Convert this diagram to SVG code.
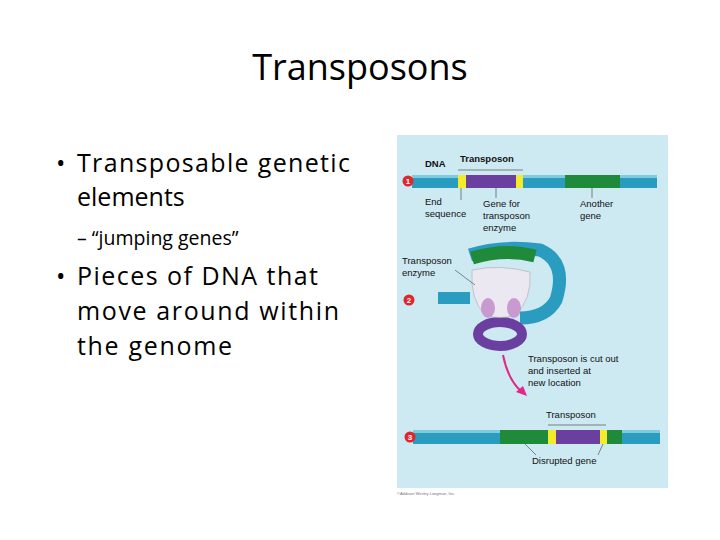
<svg xmlns="http://www.w3.org/2000/svg" width="720" height="540" viewBox="0 0 720 540">
<style>
.t{font-family:"Open Sans","Liberation Sans",sans-serif;fill:#000}
.l{font-family:"Liberation Sans",Arial,sans-serif;font-size:9.5px;fill:#111}
.b{fill:#e0262c}
.bt{font-family:"Liberation Sans",sans-serif;font-size:8px;fill:#fff;font-weight:bold;text-anchor:middle}
.ln{stroke:#555;stroke-width:0.7;fill:none}
</style>
<rect width="720" height="540" fill="#fff"/>
<text class="t" x="360" y="80" font-size="36" text-anchor="middle">Transposons</text>
<g id="bullets" class="t" font-size="25">
<text x="56" y="172">•</text><text x="77" y="172" textLength="273" lengthAdjust="spacing">Transposable genetic</text>
<text x="77" y="206">elements</text>
<text x="77" y="245" font-size="19.5">– “jumping genes”</text>
<text x="56" y="285">•</text><text x="77" y="285" textLength="241" lengthAdjust="spacing">Pieces of DNA that</text>
<text x="77" y="320" textLength="262" lengthAdjust="spacing">move around within</text>
<text x="77" y="355" textLength="155" lengthAdjust="spacing">the genome</text>
</g>
<g id="figure">
<rect x="397" y="135" width="271" height="353" fill="#cde9f1"/>
<g id="strip1">
<rect x="412" y="175" width="245" height="13" fill="#2a9cc0"/>
<rect x="412" y="175" width="245" height="3" fill="#7fcbe0"/>
<rect x="458" y="175" width="8" height="13" fill="#f4ec2a"/>
<rect x="466" y="175" width="50" height="13" fill="#6a3fa0"/>
<rect x="516" y="175" width="7" height="13" fill="#f4ec2a"/>
<rect x="565" y="175" width="55" height="13" fill="#1f8a3a"/>
<circle class="b" cx="408" cy="181" r="5.5"/><text class="bt" x="408" y="184">1</text>
<text class="l" x="425" y="167" font-weight="bold">DNA</text>
<text class="l" x="460" y="162" font-weight="bold">Transposon</text>
<path class="ln" d="M458 170H523"/>
<text class="l" x="425" y="205">End</text><text class="l" x="425" y="217">sequence</text>
<text class="l" x="483" y="207">Gene for</text><text class="l" x="483" y="219">transposon</text><text class="l" x="483" y="231">enzyme</text>
<text class="l" x="580" y="207">Another</text><text class="l" x="580" y="219">gene</text>
<path class="ln" d="M461 188V200M496 188V198M592 188V198"/>
</g>
<g id="step2">
<circle class="b" cx="409" cy="300" r="5.5"/><text class="bt" x="409" y="303">2</text>
<text class="l" x="402" y="264">Transposon</text><text class="l" x="402" y="276">enzyme</text>
<path d="M470 255 Q500 245 540 250 Q568 262 556 300 Q546 318 520 318" fill="none" stroke="#2a9cc0" stroke-width="13"/>
<path d="M472 258 Q505 248 535 256" fill="none" stroke="#1f8a3a" stroke-width="13"/>
<path d="M438 298 H470" stroke="#2a9cc0" stroke-width="12"/>
<ellipse cx="500" cy="334" rx="22" ry="12" fill="none" stroke="#6a3fa0" stroke-width="10"/>
<path d="M472 270 Q500 264 530 272 Q532 300 515 315 Q500 320 485 315 Q470 300 472 270Z" fill="#ece8f2" stroke="#aaa" stroke-width="0.6"/>
<ellipse cx="488" cy="308" rx="7" ry="10" fill="#c89ad0"/>
<ellipse cx="514" cy="308" rx="7" ry="10" fill="#c89ad0"/>
<path class="ln" d="M455 270 L475 285"/>
</g>
<g id="connectors">
<path d="M503 355 Q508 380 522 392" fill="none" stroke="#e0288a" stroke-width="2"/>
<path d="M527 396 L516 392 L523 386Z" fill="#e0288a"/>
</g>
<text class="l" x="528" y="362">Transposon is cut out</text>
<text class="l" x="528" y="374">and inserted at</text>
<text class="l" x="528" y="386">new location</text>
<g id="strip3">
<rect x="413" y="430" width="247" height="14" fill="#2a9cc0"/>
<rect x="413" y="430" width="247" height="3" fill="#7fcbe0"/>
<rect x="500" y="430" width="122" height="14" fill="#1f8a3a"/>
<rect x="548" y="430" width="8" height="14" fill="#f4ec2a"/>
<rect x="556" y="430" width="44" height="14" fill="#6a3fa0"/>
<rect x="600" y="430" width="7" height="14" fill="#f4ec2a"/>
<circle class="b" cx="410" cy="437" r="5.5"/><text class="bt" x="410" y="440">3</text>
<text class="l" x="546" y="418">Transposon</text>
<path class="ln" d="M548 425H606"/>
<text class="l" x="532" y="464">Disrupted gene</text>
<path class="ln" d="M525 444L536 455M603 444L598 455"/>
</g>
<text x="397" y="495" font-family="Liberation Sans,sans-serif" font-size="4" fill="#777">©Addison Wesley Longman, Inc.</text>
</g>
</svg>
